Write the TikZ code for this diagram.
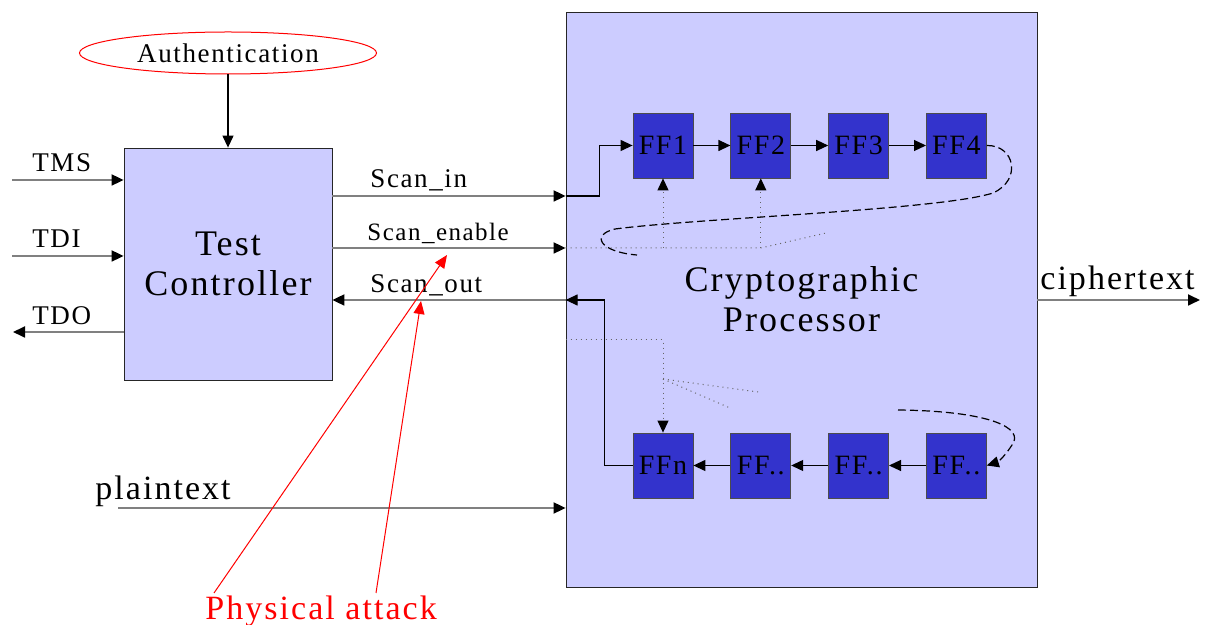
\documentclass[tikz,border=0pt]{standalone}
\usepackage{fontspec}
\setmainfont{Liberation Serif}[LetterSpace=6]
\usepackage{xcolor}
\usetikzlibrary{positioning,arrows.meta,shapes.geometric}

\definecolor{boxfill}{RGB}{204,204,255}
\definecolor{fffill}{RGB}{51,51,204}
\definecolor{wire}{RGB}{128,128,128}

\begin{document}
\begin{tikzpicture}[x=0.5pt, y=-0.5pt,
  node distance=18.5pt,
  block/.style={draw=black!85, fill=boxfill, inner sep=0pt, align=center, font=\fontsize{18}{20}\selectfont},
  ffbox/.style={draw=black!70, fill=fffill, minimum width=30pt, minimum height=32.5pt, inner sep=0pt, font=\fontsize{14}{16}\selectfont},
  lbl/.style={inner sep=0pt, anchor=base west, font=\fontsize{13.5}{15}\selectfont},
  biglbl/.style={lbl, font=\fontsize{17}{19}\selectfont},
  sig/.style={wire, line width=0.9pt, -{Triangle[length=6pt, width=5.5pt, color=black]}},
  inner/.style={black, line width=0.6pt, -{Triangle[length=6pt, width=5.5pt]}},
  enab/.style={black!60, line width=0.5pt, dotted},
  loopback/.style={black, line width=0.6pt, dash pattern=on 4pt off 2pt},
  attack/.style={red, line width=0.5pt, -{Triangle[length=6.5pt, width=5.5pt]}}
]
\useasboundingbox (0,0) rectangle (1207,625);

% blocks
\node[ellipse, draw=red, line width=0.5pt, minimum width=148.5pt, minimum height=21pt, inner sep=0pt,
      font=\fontsize{13.5}{15}\selectfont] (auth) at (228,53) {Authentication};
\node[block, minimum width=104pt, minimum height=116pt] (ctrl) at (228,264) {Test\\Controller};
\node[block, minimum width=235.5pt, minimum height=287.5pt] (crypto) at (801.5,299.5) {Cryptographic\\Processor};

% scan chain
\node[ffbox] (ff1) at (663,145.5) {FF1};
\node[ffbox, right=of ff1] (ff2) {FF2};
\node[ffbox, right=of ff2] (ff3) {FF3};
\node[ffbox, right=of ff3] (ff4) {FF4};
\node[ffbox] (ffn) at (663,465.5) {FFn};
\node[ffbox, right=of ffn] (ffa) {FF..};
\node[ffbox, right=of ffa] (ffb) {FF..};
\node[ffbox, right=of ffb] (ffc) {FF..};

% signal levels
\coordinate (ytms) at (0,180);
\coordinate (ytdi) at (0,256);
\coordinate (ytdo) at (0,332);
\coordinate (yin) at (0,196);
\coordinate (yen) at (0,248);
\coordinate (yout) at (0,300);
\coordinate (ypt) at (0,508);
\coordinate (ydn) at (0,340);
\coordinate (yfan) at (0,379);

% free ends
\coordinate (tms) at (12,180);
\coordinate (tdi) at (12,256);
\coordinate (tdo) at (13,332);
\coordinate (pt) at (118,508);
\coordinate (ct) at (1200,300);

% controller ports
\draw[black, line width=0.6pt, -{Triangle[length=6pt, width=5.5pt]}] (auth.south) -- (ctrl.north);
\draw[sig] (tms) -- (ctrl.west |- ytms);
\draw[sig] (tdi) -- (ctrl.west |- ytdi);
\draw[sig] (ctrl.west |- ytdo) -- (tdo);
\node[lbl] (tmslbl) at (32,172) {TMS};
\node[lbl] (tdilbl) at (32,248) {TDI};
\node[lbl] (tdolbl) at (32,325) {TDO};

% scan ports
\draw[sig] (ctrl.east |- yin) -- (crypto.west |- yin);
\draw[sig] (ctrl.east |- yen) -- (crypto.west |- yen);
\draw[sig] (crypto.west |- yout) -- (ctrl.east |- yout);
\node[lbl] (inlbl) at (370,188) {Scan\_in};
\node[lbl, font=\fontsize{12.5}{14}\selectfont] (enlbl) at (367,241) {Scan\_enable};
\node[lbl] (outlbl) at (370,293) {Scan\_out};

% data ports
\draw[sig] (pt) -- (crypto.west |- ypt);
\draw[sig] (crypto.east |- yout) -- (ct);
\node[biglbl] (ptlbl) at (95,500) {plaintext};
\node[biglbl] (ctlbl) at (1040,290) {ciphertext};

% chain wiring
\draw[inner] (crypto.west |- yin) -- ++(34,0) |- (ff1.west);
\draw[inner] (ff1) -- (ff2);
\draw[inner] (ff2) -- (ff3);
\draw[inner] (ff3) -- (ff4);
\draw[inner] (ffc) -- (ffb);
\draw[inner] (ffb) -- (ffa);
\draw[inner] (ffa) -- (ffn);
\draw[inner] (ffn.west) -- ++(-28,0) |- (crypto.west |- yout);

% scan enable fan out
\draw[enab] (crypto.west |- yen) -- (ff2.south |- yen) -- (826,233);
\draw[enab, -{Triangle[length=6pt, width=5.5pt, color=black]}] (ff1.south |- yen) -- (ff1.south);
\draw[enab, -{Triangle[length=6pt, width=5.5pt, color=black]}] (ff2.south |- yen) -- (ff2.south);
\draw[enab, -{Triangle[length=6pt, width=5.5pt, color=black]}] (crypto.west |- ydn) -| (ffn.north);
\draw[enab] (ffn.north |- yfan) -- (758,392);
\draw[enab] (ffn.north |- yfan) -- (730,408);

% chain continues
\draw[loopback] (ff4.east) .. controls (1015,145) and (1022,180) .. (993,193)
  .. controls (940,210) and (700,218) .. (615,229)
  .. controls (590,235) and (600,252) .. (637,255);
\draw[loopback, -{Triangle[length=6pt, width=5.5pt]}] (898,410) .. controls (990,411) and (1025,428) .. (1012,445)
  .. controls (1005,456) and (998,462) .. (ffc.east);

% attack
\node[biglbl, text=red] (phys) at (205,620) {Physical attack};
\coordinate (hit1) at (447,255);
\coordinate (hit2) at (421,301);
\coordinate (src1) at (214,593);
\coordinate (src2) at (376,593);
\draw[attack] (src1) -- (hit1);
\draw[attack] (src2) -- (hit2);
\end{tikzpicture}
\end{document}
